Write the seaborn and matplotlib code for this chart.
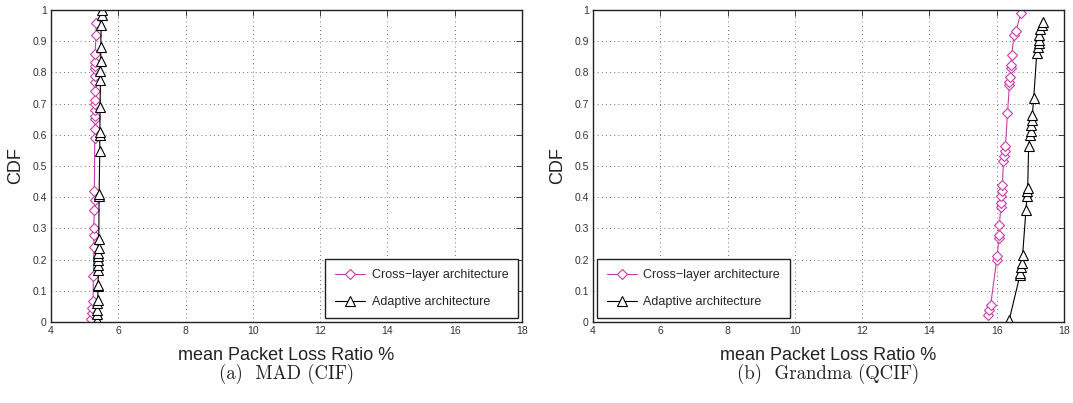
import matplotlib
matplotlib.use("Agg")
import matplotlib.pyplot as plt
import seaborn as sns
import numpy as np

# ---- data ----
mad_cross_x = [5.18, 5.21, 5.23, 5.25, 5.26, 5.28, 5.27, 5.27, 5.29, 5.30, 5.29, 5.30, 5.30, 5.31,
               5.30, 5.31, 5.31, 5.30, 5.30, 5.31, 5.31, 5.31, 5.31, 5.32, 5.31, 5.34, 5.34]
mad_cross_y = [0.01, 0.03, 0.045, 0.067, 0.147, 0.24, 0.28, 0.30, 0.36, 0.39, 0.42, 0.59, 0.62, 0.65,
               0.66, 0.68, 0.70, 0.71, 0.74, 0.77, 0.79, 0.81, 0.82, 0.834, 0.86, 0.92, 0.957]
mad_adapt_x = [5.36, 5.37, 5.38, 5.38, 5.39, 5.40, 5.40, 5.41, 5.41, 5.41, 5.41, 5.41, 5.42, 5.42,
               5.43, 5.43, 5.45, 5.45, 5.45, 5.46, 5.47, 5.47, 5.48, 5.48, 5.49, 5.51, 5.53]
mad_adapt_y = [0.008, 0.025, 0.04, 0.062, 0.072, 0.115, 0.12, 0.168, 0.184, 0.2, 0.211, 0.222, 0.238,
               0.265, 0.405, 0.41, 0.547, 0.60, 0.61, 0.69, 0.776, 0.803, 0.835, 0.883, 0.952, 0.984, 1.0]

gr_cross_x = [15.73, 15.78, 15.82, 16.00, 16.02, 16.06, 16.07, 16.08, 16.12, 16.13, 16.14, 16.15, 16.17,
              16.20, 16.22, 16.24, 16.26, 16.32, 16.38, 16.38, 16.40, 16.42, 16.42, 16.45, 16.51, 16.57, 16.72]
gr_cross_y = [0.022, 0.038, 0.055, 0.20, 0.21, 0.268, 0.279, 0.31, 0.37, 0.38, 0.403, 0.419, 0.44,
              0.517, 0.533, 0.549, 0.565, 0.67, 0.76, 0.77, 0.786, 0.813, 0.824, 0.856, 0.92, 0.934, 0.989]
gr_adapt_x = [16.37, 16.69, 16.70, 16.72, 16.74, 16.77, 16.87, 16.90, 16.91, 16.92, 16.95, 16.99, 17.01,
              17.02, 17.05, 17.06, 17.10, 17.19, 17.23, 17.25, 17.26, 17.27, 17.29, 17.34, 17.37]
gr_adapt_y = [0.006, 0.15, 0.156, 0.177, 0.188, 0.215, 0.36, 0.403, 0.42, 0.43, 0.563, 0.598, 0.612,
              0.63, 0.649, 0.665, 0.717, 0.861, 0.883, 0.893, 0.904, 0.92, 0.94, 0.952, 0.963]

x_ticks = [4, 6, 8, 10, 12, 14, 16, 18]
y_ticks = [0, 0.1, 0.2, 0.3, 0.4, 0.5, 0.6, 0.7, 0.8, 0.9, 1]
y_tick_labels = ["0", "0.1", "0.2", "0.3", "0.4", "0.5", "0.6", "0.7", "0.8", "0.9", "1"]
series_names = ["Cross\u2212layer architecture", "Adaptive architecture"]
captions = ["(a)  MAD (CIF)", "(b)  Grandma (QCIF)"]
x_label = "mean Packet Loss Ratio %"
y_label = "CDF"

sns.set_style("white")
plt.rcParams["font.family"] = ["Liberation Sans", "DejaVu Sans"]

MAG = "#C83CA8"

fig = plt.figure(figsize=(10.73, 4.03), dpi=100)
ax_pos = [[51 / 1073, 81 / 403, 471 / 1073, 312 / 403],
          [593 / 1073, 81 / 403, 471 / 1073, 312 / 403]]
datasets = [(mad_cross_x, mad_cross_y, mad_adapt_x, mad_adapt_y, "lower right"),
            (gr_cross_x, gr_cross_y, gr_adapt_x, gr_adapt_y, "lower left")]

for i, (cx, cy, axx, ay, loc) in enumerate(datasets):
    ax = fig.add_axes(ax_pos[i])
    sns.lineplot(x=cx, y=cy, ax=ax, sort=False, estimator=None, color=MAG, lw=0.8,
                 marker="D", markersize=5.5, markerfacecolor="white", markeredgecolor=MAG,
                 markeredgewidth=0.8, label=series_names[0])
    sns.lineplot(x=axx, y=ay, ax=ax, sort=False, estimator=None, color="black", lw=0.8,
                 marker="^", markersize=7, markerfacecolor="white", markeredgecolor="black",
                 markeredgewidth=0.8, label=series_names[1])
    ax.set_xlim(4, 18)
    ax.set_ylim(0, 1)
    ax.set_xticks(x_ticks)
    ax.set_xticklabels([str(t) for t in x_ticks])
    ax.set_yticks(y_ticks)
    ax.set_yticklabels(y_tick_labels)
    ax.tick_params(direction="in", length=4, width=0.6, top=True, right=True,
                   labelsize=7.5, pad=3, colors="#222222", labelcolor="#333333")
    ax.grid(True, linestyle=(0, (1, 4)), color="#444444", linewidth=0.6)
    for s in ax.spines.values():
        s.set_color("#222222")
        s.set_linewidth(1.0)
    ax.set_xlabel(x_label, fontsize=13, labelpad=8, color="#222222")
    ax.set_ylabel(y_label, fontsize=13, labelpad=6, color="#222222")
    leg = ax.legend(loc=loc, fontsize=9, frameon=True, fancybox=False,
                    edgecolor="#222222", framealpha=1, borderpad=0.8, labelspacing=1.2,
                    handlelength=2.4, handletextpad=0.5, borderaxespad=0.3)
    leg.get_frame().set_linewidth(1.0)
    ax.text(0.5, -0.165, captions[i], transform=ax.transAxes, ha="center", va="center",
            fontsize=13.5, family="cmr10", color="#222222")

fig.savefig("out.png", dpi=100)
